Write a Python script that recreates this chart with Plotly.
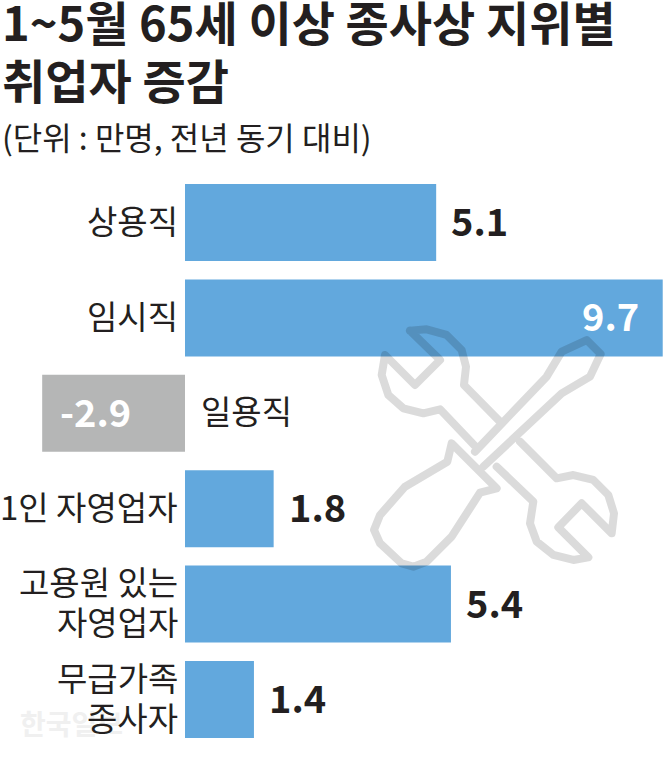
import plotly.graph_objects as go

categories = ["상용직", "임시직", "일용직", "1인 자영업자", "고용원 있는<br>자영업자", "무급가족<br>종사자"]
values = [5.1, 9.7, -2.9, 1.8, 5.4, 1.4]
value_labels = ["5.1", "9.7", "-2.9", "1.8", "5.4", "1.4"]
colors = ["#62a8dd", "#62a8dd", "#b5b6b6", "#62a8dd", "#62a8dd", "#62a8dd"]

title_lines = ["1~5월 65세 이상 종사상 지위별", "취업자 증감"]
subtitle = "(단위 : 만명, 전년 동기 대비)"
watermark = "한국일보"

W, H = 663, 762
FONT = "Noto Sans CJK KR"
INK = "#231f20"
PX_PER_UNIT = 49.25
ZERO_PX = 185
PITCH = 95.4
FIRST_CENTER = 222.5

positions = list(range(len(categories)))

fig = go.Figure(go.Bar(
    x=values, y=positions, orientation="h",
    marker=dict(color=colors, line_width=0),
    width=77 / PITCH, hoverinfo="skip",
))

annotations = []


def text(x, y, s, size, color=INK, anchor="left", bold=False, xref="paper", yref="paper", xshift=0, yshift=0):
    annotations.append(dict(
        x=x, y=y, xref=xref, yref=yref, text=f"<b>{s}</b>" if bold else s,
        showarrow=False, xanchor=anchor, yanchor="middle", xshift=xshift, yshift=yshift, align=anchor,
        font=dict(family=FONT, size=size, color=color),
    ))


text(0, 1 - 20 / H, title_lines[0], 47, bold=True)
text(0, 1 - 79 / H, title_lines[1], 47, bold=True)
text(0, 1 - 136 / H, subtitle, 32)
text(18 / W, 1 - 723 / H, watermark, 28, color="#f0f0f0", bold=True)

for i, (cat, val, lab) in enumerate(zip(categories, values, value_labels)):
    lines = cat.split("<br>")
    for j, line in enumerate(lines):
        dy = (len(lines) - 1) * 20 - j * 40 + 3
        if val < 0:
            text(0, i, line, 33, anchor="left", xref="x", yref="y", xshift=14, yshift=dy)
        else:
            text(0, i, line, 33, anchor="right", xref="x", yref="y", xshift=-5, yshift=dy)
    if val < 0:
        text(val, i, lab, 38, color="white", bold=True, xref="x", yref="y", xshift=16, yshift=3)
    elif val > 9:
        text(val, i, lab, 38, color="white", anchor="right", bold=True, xref="x", yref="y", xshift=-22, yshift=3)
    else:
        text(val, i, lab, 38, bold=True, xref="x", yref="y", xshift=13, yshift=3)


def icon_path(subpaths, closed):
    parts = []
    for pts, c in zip(subpaths, closed):
        coords = [((360 + zx / 3) / W, 1 - (320 + zy / 3) / H) for zx, zy in pts]
        parts.append("M " + " L ".join(f"{x:.4f},{y:.4f}" for x, y in coords) + (" Z" if c else ""))
    return " ".join(parts)


wrench_a = [(150, 32), (200, 28), (260, 45), (305, 90), (318, 140), (312, 195), (425, 310)]
wrench_b = [(480, 365), (590, 475), (640, 465), (700, 480), (745, 525), (762, 580), (755, 640),
            (665, 550), (595, 622), (685, 712), (640, 720), (580, 705), (530, 665), (510, 610),
            (520, 545), (410, 440)]
wrench_c = [(345, 378), (240, 268), (190, 280), (130, 265), (85, 225), (65, 165), (75, 105),
            (165, 195), (240, 120), (150, 32)]
driver_shaft = [(345, 395), (560, 170), (605, 95), (680, 60), (722, 102), (690, 170), (605, 220), (370, 440)]
driver_handle = [(275, 370), (410, 505), (360, 518), (275, 650), (200, 725), (160, 740), (125, 730),
                 (60, 670), (42, 630), (60, 585), (135, 500), (262, 425)]

fig.add_shape(
    type="path", xref="paper", yref="paper", layer="above",
    path=icon_path([wrench_a, wrench_b, wrench_c, driver_shaft, driver_handle],
                   [False, False, False, False, True]),
    line=dict(color="rgba(0,0,0,0.14)", width=8), fillcolor="rgba(0,0,0,0)",
)

fig.update_layout(
    width=W, height=H, autosize=False,
    margin=dict(l=0, r=0, t=0, b=0),
    paper_bgcolor="white", plot_bgcolor="white",
    showlegend=False, annotations=annotations,
    font=dict(family=FONT),
    xaxis=dict(range=[-ZERO_PX / PX_PER_UNIT, (W - ZERO_PX) / PX_PER_UNIT], visible=False, fixedrange=True),
    yaxis=dict(range=[(H - FIRST_CENTER) / PITCH, -FIRST_CENTER / PITCH], visible=False, fixedrange=True),
)

post = """
document.body.style.margin = '0';
document.body.style.overflow = 'hidden';
document.querySelectorAll('.shapelayer path').forEach(function (p) {
  p.style.strokeLinejoin = 'round';
  p.style.strokeLinecap = 'round';
});
"""
fig.write_html("out.html", config={"displayModeBar": False}, post_script=post)
